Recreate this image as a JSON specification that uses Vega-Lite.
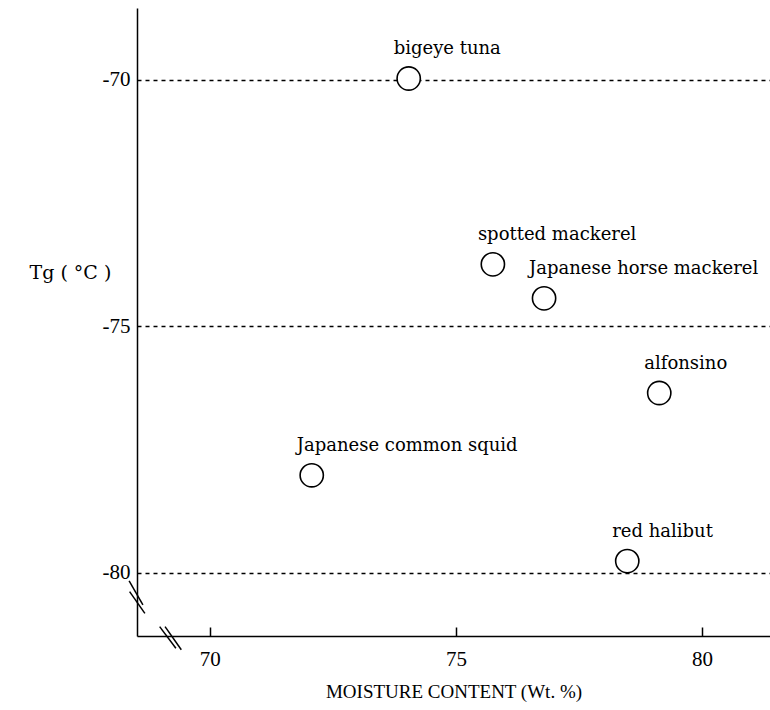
{
  "$schema": "https://vega.github.io/schema/vega-lite/v6.json",
  "autosize": "none",
  "width": 633,
  "height": 628,
  "padding": {"left": 137, "top": 8, "right": 0, "bottom": 74},
  "background": "white",
  "config": {
    "view": {"stroke": null},
    "font": "Liberation Serif"
  },
  "datasets": {
    "fish": [
      {"species": "bigeye tuna", "moisture": 74.04, "tg": -69.97},
      {"species": "spotted mackerel", "moisture": 75.75, "tg": -73.74},
      {"species": "Japanese horse mackerel", "moisture": 76.79, "tg": -74.43},
      {"species": "alfonsino", "moisture": 79.13, "tg": -76.35},
      {"species": "Japanese common squid", "moisture": 72.07, "tg": -78.02},
      {"species": "red halibut", "moisture": 78.48, "tg": -79.76}
    ],
    "breaks": [
      {"x": 68.36, "y": -80.16, "x2": 68.64, "y2": -80.65},
      {"x": 68.37, "y": -80.38, "x2": 68.68, "y2": -80.82},
      {"x": 68.98, "y": -81.09, "x2": 69.31, "y2": -81.53},
      {"x": 69.09, "y": -81.09, "x2": 69.42, "y2": -81.56}
    ]
  },
  "layer": [
    {
      "data": {"name": "fish"},
      "mark": {"type": "point", "shape": "circle", "size": 540, "filled": false, "fill": "white", "fillOpacity": 1, "stroke": "black", "strokeWidth": 1.6, "opacity": 1},
      "encoding": {
        "x": {
          "field": "moisture", "type": "quantitative",
          "scale": {"domain": [68.52, 81.38], "nice": false, "zero": false},
          "axis": {
            "values": [70, 75, 80], "title": "MOISTURE CONTENT (Wt. %)",
            "grid": false, "domainColor": "black", "domainWidth": 1.5,
            "tickColor": "black", "tickSize": -9, "tickWidth": 1.5,
            "labelFontSize": 21, "labelColor": "black", "labelPadding": 21, "labelFont": "Liberation Serif",
            "titleFontSize": 19, "titleFontWeight": "normal", "titleColor": "black", "titlePadding": 13, "titleFont": "Liberation Serif"
          }
        },
        "y": {
          "field": "tg", "type": "quantitative",
          "scale": {"domain": [-81.28, -68.54], "nice": false, "zero": false},
          "axis": {
            "values": [-70, -75, -80], "title": "Tg  ( °C )",
            "labelExpr": "'-' + abs(datum.value)",
            "grid": true, "gridColor": "black", "gridDash": [4, 4], "gridWidth": 1.5, "gridOpacity": 1,
            "domainColor": "black", "domainWidth": 1.5, "ticks": false,
            "labelFontSize": 21, "labelColor": "black", "labelPadding": 7, "labelFont": "Liberation Serif",
            "titleAngle": 0, "titleAlign": "left", "titleBaseline": "middle", "titleX": -108, "titleY": 264,
            "titleFontSize": 19, "titleFontWeight": "normal", "titleColor": "black", "titleFont": "DejaVu Serif"
          }
        }
      }
    },
    {
      "data": {"name": "fish"},
      "mark": {"type": "text", "align": "left", "baseline": "middle", "dx": -15, "dy": -29, "fontSize": 18, "font": "DejaVu Serif", "color": "black"},
      "encoding": {
        "x": {"field": "moisture", "type": "quantitative"},
        "y": {"field": "tg", "type": "quantitative"},
        "text": {"field": "species"}
      }
    },
    {
      "data": {"name": "breaks"},
      "mark": {"type": "rule", "color": "black", "strokeWidth": 1.5},
      "encoding": {
        "x": {"field": "x", "type": "quantitative"},
        "y": {"field": "y", "type": "quantitative"},
        "x2": {"field": "x2"},
        "y2": {"field": "y2"}
      }
    }
  ]
}
